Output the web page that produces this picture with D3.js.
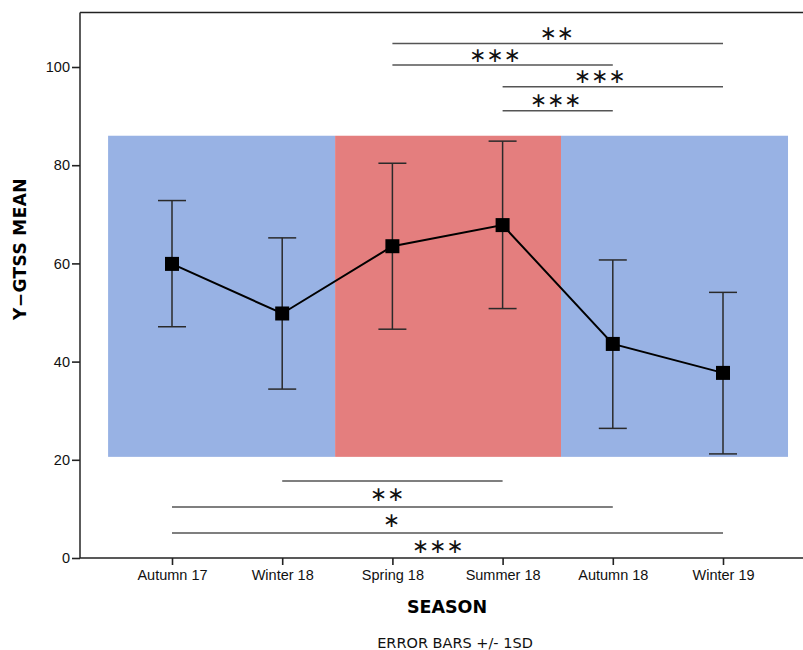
<!DOCTYPE html>
<html>
<head>
<meta charset="utf-8">
<script src="https://cdn.jsdelivr.net/npm/d3@7"></script>
<style>
  html, body { margin: 0; padding: 0; background: #fff; }
  svg { display: block; }
</style>
</head>
<body>
<svg id="chart" width="803" height="650"></svg>
<script>
// Seasons on the x axis and Y-GTSS summary statistics
const seasons = ["Autumn 17", "Winter 18", "Spring 18", "Summer 18", "Autumn 18", "Winter 19"];
const means   = [59.9, 49.8, 63.5, 67.8, 43.6, 37.7];
const upper   = [72.8, 65.2, 80.4, 84.9, 60.7, 54.1];   // mean + 1SD
const lower   = [47.1, 34.4, 46.6, 50.8, 26.4, 21.2];   // mean - 1SD
const yTicks  = [0, 20, 40, 60, 80, 100];

// Shaded season blocks (category index span, value span)
const blockStart = [-0.58, 1.48, 3.53];
const blockEnd   = [1.48, 3.53, 5.59];
const blockColor = ["#98b2e4", "#e47e7e", "#98b2e4"];
const blockLow   = 20.6;
const blockHigh  = 86.0;

// Pairwise significance brackets
const sigFrom   = [2, 2, 3, 3, 1, 0, 0];
const sigTo     = [5, 4, 5, 4, 3, 4, 5];
const sigLevel  = [104.8, 100.4, 96.0, 91.1, 15.7, 10.4, 5.1];
const sigStars  = ["∗∗", "∗∗∗", "∗∗∗", "∗∗∗", "∗∗", "∗", "∗∗∗"];
const sigLabelAt = [3.49, 2.93, 3.88, 3.48, 1.95, 1.99, 2.41];
const sigAbove  = [true, true, true, true, false, false, false];

const svg = d3.select("#chart");
const mLeft = 80, mRight = 803, mTop = 12.5, mBottom = 558;

const x = d3.scalePoint().domain(seasons).range([172, 723]);
const xi = d3.scaleLinear().domain([0, seasons.length - 1]).range([172, 723]);
const y = d3.scaleLinear().domain([0, 111.1]).range([mBottom, mTop]);

// background blocks
svg.append("g").selectAll("rect")
  .data(blockStart.map((s, i) => ({ s, e: blockEnd[i], c: blockColor[i] })))
  .join("rect")
  .attr("x", d => xi(d.s))
  .attr("width", d => xi(d.e) - xi(d.s))
  .attr("y", y(blockHigh))
  .attr("height", y(blockLow) - y(blockHigh))
  .attr("fill", d => d.c);

// frame top line
svg.append("line")
  .attr("x1", mLeft).attr("x2", mRight)
  .attr("y1", mTop).attr("y2", mTop)
  .attr("stroke", "#222").attr("stroke-width", 1.6);

// y axis
const yAxis = svg.append("g")
  .attr("transform", `translate(${mLeft},0)`)
  .call(d3.axisLeft(y).tickValues(yTicks).tickSize(8).tickSizeOuter(0).tickPadding(2));
yAxis.select(".domain").attr("stroke", "#333").attr("stroke-width", 1.6)
  .attr("d", `M0,${mTop}V${mBottom}`);
yAxis.selectAll(".tick line").attr("stroke", "#222").attr("stroke-width", 1.6);
yAxis.selectAll(".tick text")
  .attr("font-family", "'Liberation Sans', Arial, sans-serif")
  .attr("font-size", 14.5).attr("fill", "#111");

// x axis
const xAxis = svg.append("g")
  .attr("transform", `translate(0,${mBottom})`)
  .call(d3.axisBottom(x).tickSize(7).tickSizeOuter(0).tickPadding(5));
xAxis.select(".domain").attr("stroke", "#222").attr("stroke-width", 1.6)
  .attr("d", `M${mLeft},0H${mRight}`);
xAxis.selectAll(".tick line").attr("stroke", "#222").attr("stroke-width", 1.6);
xAxis.selectAll(".tick text")
  .attr("font-family", "'Liberation Sans', Arial, sans-serif")
  .attr("font-size", 14.5).attr("fill", "#111");

// significance brackets
const sig = svg.append("g");
sigFrom.forEach((f, i) => {
  const yy = y(sigLevel[i]);
  sig.append("line")
    .attr("x1", xi(f)).attr("x2", xi(sigTo[i]))
    .attr("y1", yy).attr("y2", yy)
    .attr("stroke", "#555").attr("stroke-width", 1.5);
  sig.append("text")
    .attr("x", xi(sigLabelAt[i]))
    .attr("y", sigAbove[i] ? yy - 10.5 : yy + 13)
    .attr("text-anchor", "middle")
    .attr("dominant-baseline", "central")
    .attr("font-family", "'DejaVu Sans', Verdana, sans-serif")
    .attr("font-size", 20.5)
    .attr("fill", "#111")
    .text(sigStars[i]);
});

// error bars
const eb = svg.append("g").attr("stroke", "#2a2a2a").attr("stroke-width", 1.5);
seasons.forEach((s, i) => {
  const cx = x(s);
  eb.append("line").attr("x1", cx).attr("x2", cx).attr("y1", y(upper[i])).attr("y2", y(lower[i]));
  eb.append("line").attr("x1", cx - 14).attr("x2", cx + 14).attr("y1", y(upper[i])).attr("y2", y(upper[i]));
  eb.append("line").attr("x1", cx - 14).attr("x2", cx + 14).attr("y1", y(lower[i])).attr("y2", y(lower[i]));
});

// mean line
svg.append("path")
  .datum(means)
  .attr("fill", "none")
  .attr("stroke", "#000")
  .attr("stroke-width", 2)
  .attr("d", d3.line().x((d, i) => x(seasons[i])).y(d => y(d)));

// mean markers
svg.append("g").selectAll("rect")
  .data(means)
  .join("rect")
  .attr("x", (d, i) => x(seasons[i]) - 7)
  .attr("y", d => y(d) - 7)
  .attr("width", 14).attr("height", 14)
  .attr("fill", "#000");

// axis titles
svg.append("text")
  .attr("transform", "translate(20,249) rotate(-90)")
  .attr("text-anchor", "middle")
  .attr("dominant-baseline", "central")
  .attr("font-family", "'DejaVu Sans', Verdana, sans-serif")
  .attr("font-weight", "bold")
  .attr("font-size", 17)
  .attr("letter-spacing", 0.4)
  .attr("fill", "#000")
  .text("Y−GTSS MEAN");

svg.append("text")
  .attr("x", 447).attr("y", 607)
  .attr("text-anchor", "middle")
  .attr("dominant-baseline", "central")
  .attr("font-family", "'DejaVu Sans', Verdana, sans-serif")
  .attr("font-weight", "bold")
  .attr("font-size", 17.5)
  .attr("fill", "#000")
  .text("SEASON");

svg.append("text")
  .attr("x", 455).attr("y", 643)
  .attr("text-anchor", "middle")
  .attr("dominant-baseline", "central")
  .attr("font-family", "'DejaVu Sans', Verdana, sans-serif")
  .attr("font-size", 14.5)
  .attr("fill", "#111")
  .text("ERROR BARS +/- 1SD");
</script>
</body>
</html>
